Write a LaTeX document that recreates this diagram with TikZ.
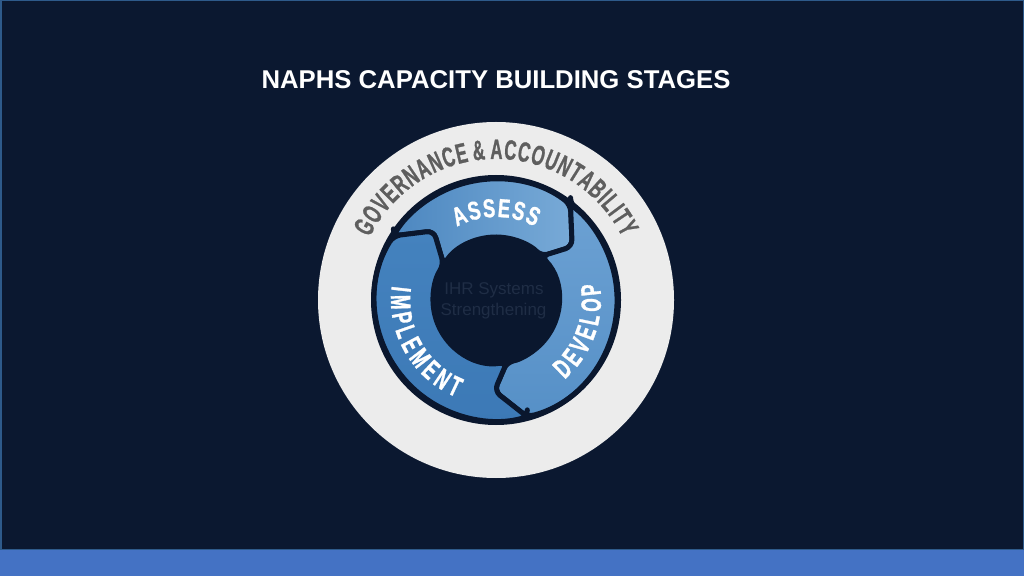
\documentclass[tikz,border=0pt]{standalone}
\usepackage{fontspec}
\setmainfont{Liberation Sans}
\newfontfamily\govfont[FakeStretch=0.6, FakeBold=0.8]{Liberation Sans}
\newfontfamily\segfont[FakeStretch=0.62, FakeBold=1.1]{Liberation Sans}
\newfontfamily\asfont[FakeStretch=0.7, FakeBold=1.1]{Liberation Sans}
\usetikzlibrary{decorations.text}
\definecolor{bg}{HTML}{0B1830}
\definecolor{navy}{HTML}{0A172E}
\definecolor{framecol}{HTML}{2E5A8A}
\definecolor{barblue}{HTML}{4472C4}
\definecolor{ringgray}{HTML}{ECECEC}
\definecolor{govgray}{HTML}{5E5E5E}
\definecolor{coregray}{HTML}{1F2D45}
\definecolor{asA}{HTML}{4C87C0}
\definecolor{asB}{HTML}{78AAD7}
\definecolor{dvA}{HTML}{6CA1D3}
\definecolor{dvB}{HTML}{5690C7}
\definecolor{imA}{HTML}{4482BE}
\definecolor{imB}{HTML}{3C79B6}
\tikzset{
  titlestyle/.style={text=white, font=\bfseries\fontsize{25.7}{28}\selectfont, anchor=base, inner sep=0},
  corestyle/.style={text=coregray, font=\fontsize{17}{20}\selectfont, anchor=base, inner sep=0},
  segment/.style={draw=navy, line width=5pt, line join=round, rounded corners=7pt},
}
\begin{document}
\begin{tikzpicture}[x=1pt,y=1pt]
\useasboundingbox (0,0) rectangle (1024,576);
\fill[bg] (0,0) rectangle (1024,576);
\draw[framecol, line width=1.5pt] (0.75,26) rectangle (1023.25,575.25);
\fill[barblue] (0,0) rectangle (1024,26);
\node[titlestyle] (title) at (496,487) {NAPHS CAPACITY BUILDING STAGES};
\begin{scope}[shift={(496,276)}]
  \fill[ringgray] (0,0) circle (178);
  \fill[navy] (0,0) circle (125);
  % junctions
  \coordinate (j1t) at (132:93);  \coordinate (j1o) at (148:121); \coordinate (j1i) at (146:63);
  \coordinate (j2t) at (35:93);   \coordinate (j2o) at (52:121);  \coordinate (j2i) at (44:63);
  \coordinate (j3t) at (-91:91);  \coordinate (j3o) at (-75:121); \coordinate (j3i) at (-80:63);
  % ASSESS
  \path[segment, left color=asA, right color=asB] (j1o) -- (j1t) -- (j1i)
     arc[start angle=146, end angle=44, radius=63] -- (j2t) -- (j2o)
     arc[start angle=52, end angle=148, radius=121] -- cycle;
  % DEVELOP
  \path[segment, top color=dvA, bottom color=dvB] (j2o) -- (j2t) -- (j2i)
     arc[start angle=44, end angle=-80, radius=63] -- (j3t) -- (j3o)
     arc[start angle=-75, end angle=52, radius=121] -- cycle;
  % IMPLEMENT
  \path[segment, top color=imA, bottom color=imB] (j3o) -- (j3t) -- (j3i)
     arc[start angle=-80, end angle=-214, radius=63] -- (j1t) -- (j1o)
     arc[start angle=148, end angle=285, radius=121] -- cycle;
  \fill[navy] (0,0) circle (64);
  \draw[navy, line width=4pt] (0,0) circle (122);
  % labels
  \path[decorate, decoration={text along path, text align=center, text color=white,
     text={|\asfont\bfseries\fontsize{26}{26}\selectfont|A{\kern1.5pt}S{\kern1.5pt}S{\kern1.5pt}E{\kern1.5pt}S{\kern1.5pt}S}}]
     (150:83) arc[start angle=150, end angle=30, radius=83];
  \path[decorate, decoration={text along path, text align=center, text color=white,
     text={|\segfont\bfseries\fontsize{28}{28}\selectfont|D{\kern4pt}E{\kern4pt}V{\kern4pt}E{\kern4pt}L{\kern4pt}O{\kern4pt}P}}]
     (-75:105) arc[start angle=-75, end angle=35, radius=105];
  \path[decorate, decoration={text along path, text align=center, text color=white,
     text={|\segfont\bfseries\fontsize{28}{28}\selectfont|I{\kern4.5pt}M{\kern4.5pt}P{\kern4.5pt}L{\kern4.5pt}E{\kern4.5pt}M{\kern4.5pt}E{\kern4.5pt}N{\kern4.5pt}T}}]
     (155:105) arc[start angle=155, end angle=265, radius=105];
  \path[decorate, decoration={text along path, text align=center, text color=govgray,
     text={|\govfont\bfseries\fontsize{28}{28}\selectfont|G{\kern1pt}O{\kern1pt}V{\kern1pt}E{\kern1pt}R{\kern1pt}N{\kern1pt}A{\kern1pt}N{\kern1pt}C{\kern1pt}E {\&} A{\kern1pt}C{\kern1pt}C{\kern1pt}O{\kern1pt}U{\kern1pt}N{\kern1pt}T{\kern1pt}A{\kern1pt}B{\kern1pt}I{\kern1pt}L{\kern1pt}I{\kern1pt}T{\kern1pt}Y}}]
     (170:141) arc[start angle=170, end angle=10, radius=141];
  \node[corestyle] (core1) at (-2,5) {IHR Systems};
  \node[corestyle] (core2) at (-2.5,-16) {Strengthening};
\end{scope}
\end{tikzpicture}
\end{document}
